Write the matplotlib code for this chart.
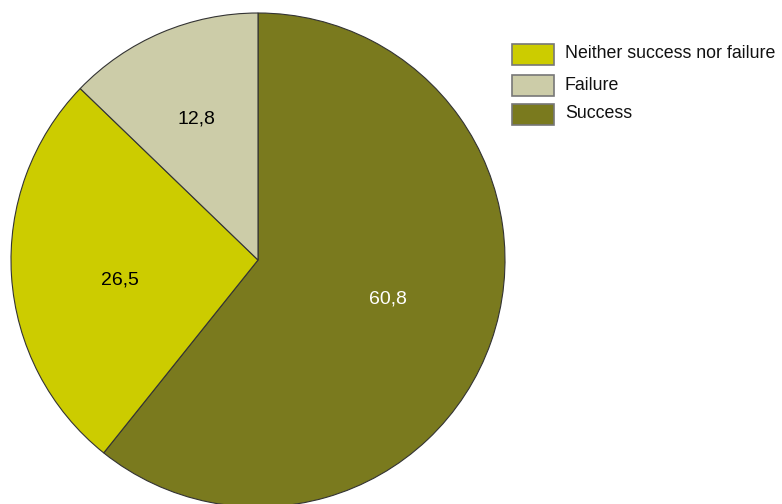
import matplotlib
matplotlib.use('Agg')
import matplotlib.pyplot as plt
from matplotlib.patches import Rectangle

plt.rcParams['font.family'] = ['Liberation Sans', 'DejaVu Sans']

# data (clockwise from 12 o'clock)
labels = ['Success', 'Neither success nor failure', 'Failure']
values = [60.8, 26.5, 12.8]
value_text = ['60,8', '26,5', '12,8']
colors = ['#7A7A1E', '#CCCC00', '#CCCCA8']
text_colors = ['white', 'black', 'black']
legend_order = ['Neither success nor failure', 'Failure', 'Success']

fig = plt.figure(figsize=(7.82, 5.04), dpi=100)
ax = fig.add_axes([0, 0, 1, 1])

ax.pie(values, colors=colors, startangle=90, counterclock=False,
       center=(258, 244), radius=247, frame=True,
       wedgeprops=dict(edgecolor='#333333', linewidth=0.8))
ax.set_xlim(0, 782)
ax.set_ylim(0, 504)
ax.set_aspect('equal')
ax.axis('off')

# value labels
label_pos = [(388, 205), (120, 224), (196, 385)]
for (x, y), t, c in zip(label_pos, value_text, text_colors):
    ax.text(x, y, t, ha='center', va='center', fontsize=14, color=c)

# legend drawn by hand (pixel coords, y up)
row_y = [450, 419, 390]
for name, y in zip(legend_order, row_y):
    i = labels.index(name)
    ax.add_patch(Rectangle((512, y - 10.5), 42, 21, facecolor=colors[i],
                           edgecolor='#777777', linewidth=1.2))
    ax.text(565, y, name, ha='left', va='center', fontsize=12.8,
            color='#111111')

fig.savefig('out.png', dpi=100)
